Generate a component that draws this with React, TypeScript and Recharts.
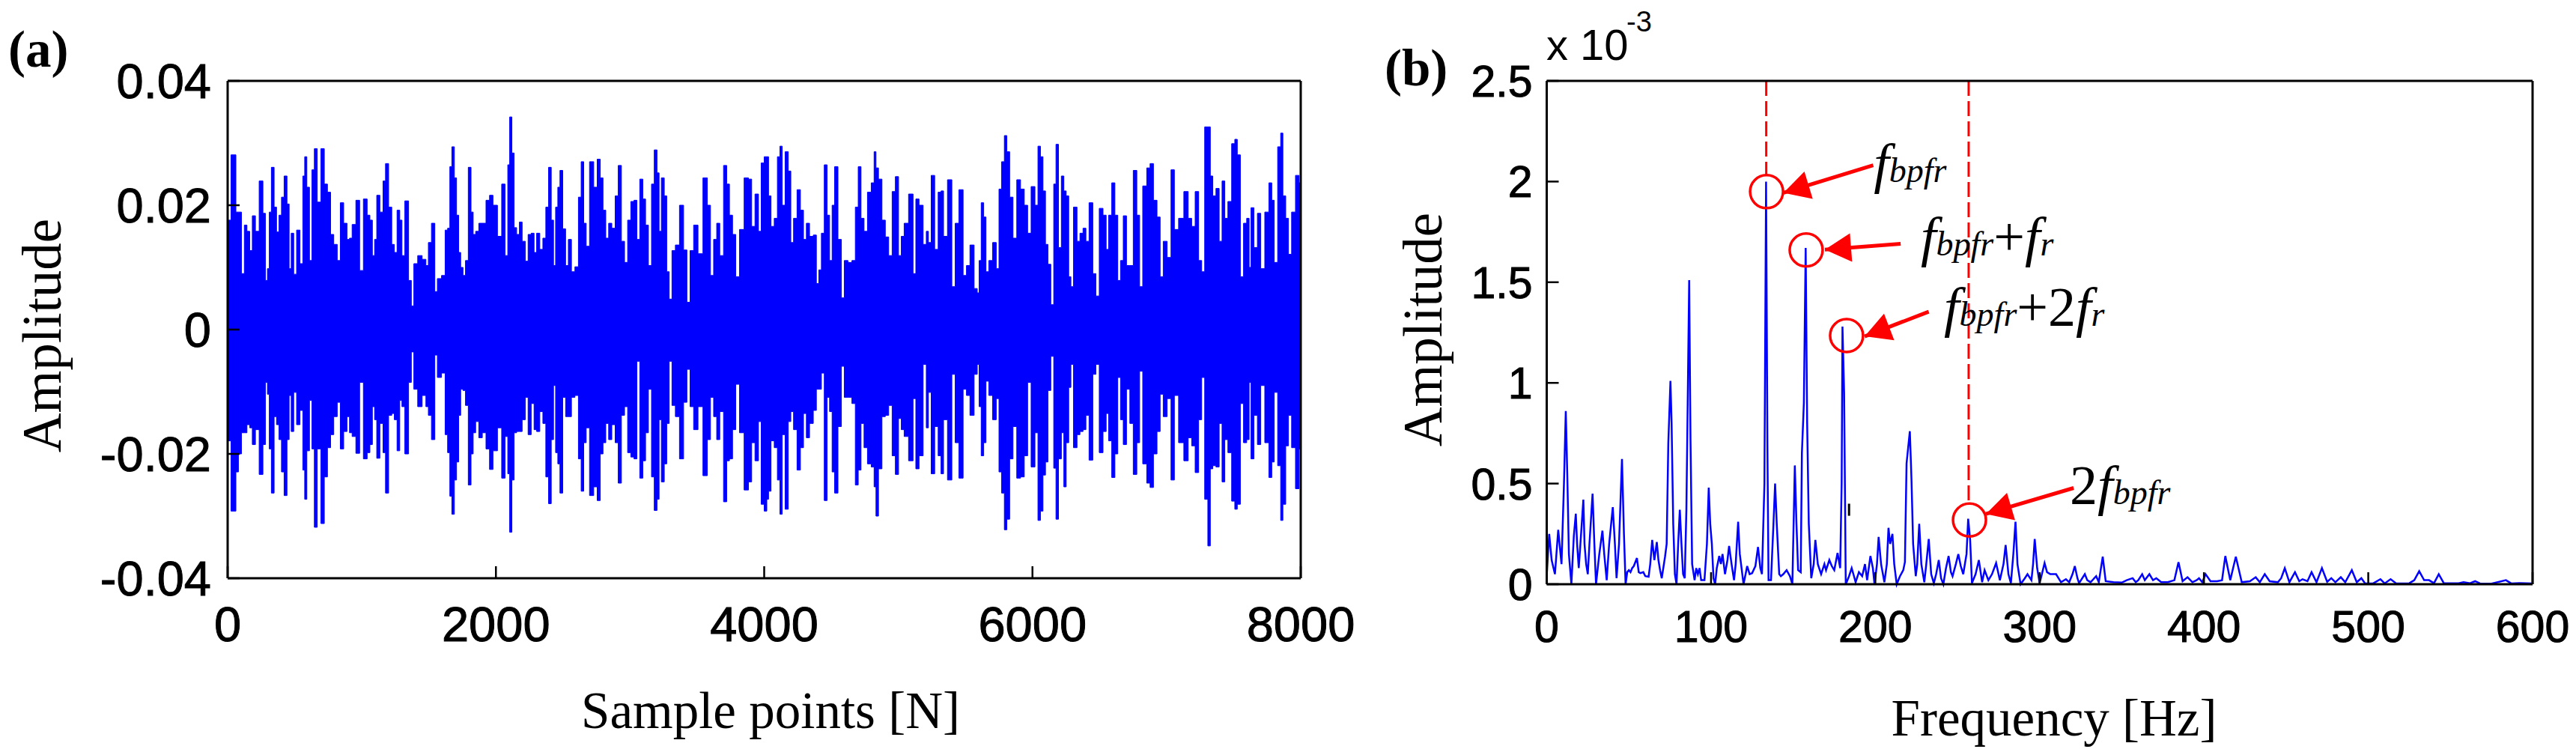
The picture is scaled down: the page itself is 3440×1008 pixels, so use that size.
import React from "react";
import {
  AreaChart,
  Area,
  LineChart,
  Line,
  XAxis,
  YAxis,
  ReferenceLine,
  ReferenceDot,
} from "recharts";

// (a) time trace, read as upper / lower peaks per sample column, in units of 1e-4
const sampleIndex = [
  0, 50, 73, 88, 118, 131, 157, 172, 196, 218, 252, 274, 289, 304, 317, 335, 358, 371, 395, 408,
  434, 451, 466, 482, 503, 525, 553, 568, 581, 600, 620, 637, 656, 680, 711, 730, 758, 777, 805, 829,
  851, 879, 901, 916, 940, 972, 996, 1028, 1052, 1069, 1089, 1102, 1121, 1149, 1168, 1186, 1214, 1233, 1252, 1274,
  1292, 1307, 1335, 1363, 1376, 1400, 1434, 1466, 1490, 1503, 1536, 1553, 1574, 1615, 1628, 1652, 1661, 1682, 1698, 1715,
  1730, 1745, 1764, 1782, 1806, 1823, 1838, 1860, 1885, 1912, 1940, 1965, 1991,
  2032, 2054, 2082, 2095, 2110, 2128, 2143, 2166, 2184, 2207, 2231, 2249, 2277, 2292, 2315, 2339, 2361, 2383, 2402, 2423,
  2436, 2454, 2469, 2486, 2510, 2529, 2551, 2575, 2603, 2627, 2644, 2665, 2681, 2715, 2743, 2767, 2789, 2808, 2830, 2851,
  2877, 2901, 2923, 2948, 2970, 2994, 3018, 3041, 3061, 3084, 3106, 3125, 3149, 3171, 3190, 3212, 3221, 3246, 3264, 3283,
  3301, 3324, 3352, 3385, 3413, 3435, 3460, 3488, 3525, 3562, 3590, 3609, 3637, 3655, 3683, 3711, 3730, 3752, 3776, 3800,
  3832, 3869, 3897, 3916, 3947, 3968, 3987, 4013,
  4026, 4039, 4063, 4087, 4110, 4125, 4143, 4169, 4190, 4207, 4231, 4259, 4281, 4305, 4324, 4352, 4380, 4398, 4417, 4436,
  4460, 4478, 4497, 4516, 4534, 4566, 4585, 4609, 4640, 4668, 4691, 4711, 4733, 4756, 4784, 4812, 4827, 4840, 4864, 4892,
  4914, 4942, 4966, 4990, 5013, 5031, 5056, 5097, 5123, 5138, 5171, 5199, 5218, 5231, 5259, 5283, 5311, 5326, 5348, 5385,
  5413, 5435, 5469, 5497, 5519, 5549, 5581, 5596, 5609, 5627, 5646, 5661, 5689, 5717, 5743, 5758, 5782, 5799, 5819, 5841,
  5869, 5897, 5925, 5953, 5975, 6005,
  6032, 6050, 6069, 6088, 6106, 6125, 6149, 6168, 6183, 6205, 6226, 6242, 6261, 6280, 6293, 6319, 6345, 6363, 6391, 6406,
  6438, 6462, 6484, 6512, 6540, 6559, 6577, 6605, 6624, 6648, 6665, 6689, 6713, 6739, 6764, 6792, 6806, 6838, 6866, 6888,
  6916, 6941, 6963, 6987, 7021, 7045, 7071, 7108, 7149, 7173, 7201, 7225, 7253, 7270, 7298, 7317, 7335, 7354, 7382, 7402,
  7425, 7443, 7471, 7499, 7518, 7536, 7564, 7583, 7611, 7620, 7639, 7663, 7691, 7713, 7751, 7775, 7793, 7812, 7844, 7857,
  7877, 7899, 7918, 7946, 7976, 8000,
];
const upperPeak = [
  176, 281, 189, 189, 90, 168, 158, 127, 183, 158, 239, 187, 79, 98, 189, 261, 197, 157, 184, 213,
  247, 202, 98, 155, 89, 160, 106, 247, 278, 229, 111, 257, 291, 205, 291, 234, 221, 153, 137, 111,
  204, 171, 145, 147, 169, 208, 95, 210, 184, 176, 119, 145, 216, 189, 239, 267, 197, 137, 124, 192,
  176, 119, 207, 79, 38, 106, 119, 113, 103, 140, 171, 61, 82, 87, 160, 163, 262, 294, 244, 184,
  124, 100, 87, 111, 261, 189, 153, 158, 171, 171, 208, 216, 200,
  150, 234, 119, 265, 342, 284, 164, 153, 173, 142, 110, 153, 155, 124, 155, 129, 147, 197, 261, 176,
  103, 197, 229, 256, 162, 103, 145, 93, 101, 213, 270, 171, 134, 270, 229, 274, 244, 192, 147, 171,
  163, 215, 264, 142, 108, 176, 206, 208, 145, 242, 210, 168, 103, 234, 289, 252, 158, 244, 215, 93,
  49, 127, 136, 200, 128, 44, 127, 168, 122, 244, 200, 87, 145, 171, 119, 264, 234, 184, 153, 85,
  161, 244, 242, 166, 218, 158, 268, 278,
  278, 215, 166, 179, 278, 295, 200, 286, 255, 140, 179, 225, 192, 145, 171, 150, 152, 74, 96, 155,
  265, 184, 111, 200, 262, 145, 51, 111, 108, 111, 197, 262, 179, 158, 221, 236, 286, 260, 242, 176,
  149, 119, 222, 246, 119, 150, 171, 218, 90, 210, 200, 137, 158, 140, 248, 129, 221, 223, 150, 241,
  69, 171, 225, 87, 103, 136, 66, 59, 111, 204, 181, 93, 111, 140, 98, 226, 270, 312, 286, 213,
  147, 241, 226, 200, 155, 230,
  200, 295, 278, 223, 137, 105, 40, 234, 298, 132, 247, 223, 215, 85, 69, 197, 142, 155, 163, 142,
  204, 90, 54, 195, 184, 129, 184, 236, 184, 79, 111, 183, 103, 103, 256, 184, 69, 231, 260, 267,
  208, 181, 85, 142, 116, 257, 161, 179, 222, 179, 166, 222, 111, 93, 326, 326, 247, 215, 227, 142,
  239, 179, 206, 299, 306, 281, 85, 171, 179, 100, 196, 132, 187, 98, 189, 236, 208, 108, 294, 316,
  215, 179, 121, 189, 248, 236,
];
const lowerPeak = [
  -179, -292, -229, -200, -166, -166, -153, -158, -185, -161, -233, -185, -85, -104, -192, -263, -140, -153, -177, -229,
  -267, -177, -106, -164, -101, -153, -130, -226, -273, -195, -114, -192, -318, -192, -312, -237, -190, -169, -140, -117,
  -192, -164, -140, -166, -172, -199, -85, -208, -198, -185, -124, -145, -207, -151, -198, -263, -138, -135, -145, -195,
  -114, -124, -200, -85, -36, -96, -124, -106, -124, -138, -177, -41, -77, -70, -169, -198, -268, -297, -242, -213,
  -138, -96, -98, -122, -250, -200, -166, -148, -174, -166, -192, -225, -195,
  -158, -239, -172, -232, -326, -242, -166, -164, -164, -145, -109, -169, -119, -161, -164, -132, -151, -237, -280, -177,
  -90, -198, -216, -263, -109, -140, -140, -109, -106, -208, -260, -182, -158, -267, -253, -275, -200, -182, -151, -177,
  -153, -182, -247, -138, -124, -198, -205, -208, -51, -239, -211, -166, -96, -237, -291, -273, -145, -245, -216, -151,
  -51, -122, -140, -208, -117, -64, -124, -161, -124, -235, -177, -109, -140, -177, -132, -277, -211, -208, -161, -88,
  -166, -258, -245, -182, -211, -148, -281, -292,
  -273, -260, -179, -190, -242, -297, -169, -289, -148, -132, -161, -226, -190, -135, -174, -151, -130, -96, -96, -70,
  -275, -109, -132, -229, -263, -156, -59, -109, -109, -119, -250, -226, -151, -190, -216, -221, -253, -300, -224, -140,
  -138, -122, -203, -233, -143, -161, -172, -211, -111, -224, -203, -56, -158, -101, -232, -156, -203, -232, -145, -242,
  -72, -182, -239, -96, -106, -138, -72, -56, -124, -203, -182, -83, -106, -145, -111, -229, -263, -322, -305, -208,
  -156, -239, -237, -203, -85, -221,
  -166, -307, -292, -234, -213, -98, -43, -223, -305, -208, -166, -253, -182, -93, -56, -190, -169, -164, -161, -138,
  -210, -72, -56, -198, -164, -135, -179, -238, -200, -77, -145, -185, -96, -151, -233, -182, -67, -216, -247, -254,
  -200, -164, -104, -140, -111, -242, -106, -182, -211, -174, -187, -230, -145, -77, -273, -348, -224, -219, -221, -151,
  -245, -177, -198, -276, -289, -281, -119, -182, -177, -85, -208, -138, -185, -90, -182, -238, -213, -101, -219, -307,
  -281, -187, -138, -190, -256, -192,
];
const traceXTicks = [0, 2000, 4000, 6000, 8000];
const traceYTicks = [-0.04, -0.02, 0, 0.02, 0.04];

// (b) spectrum, amplitude in units of 1e-3 as the axis says
const freqHz = [
  0, 1.5, 3, 5, 7, 9, 10.5, 11.6, 12.5, 13.5, 15, 16.5, 17.7, 18.5, 19.5, 20.5, 22.3, 23, 24, 25,
  26, 27.9, 29, 30, 32, 33.9, 35, 36.5, 38, 40.2, 41.5, 42.5, 44, 45.8, 47, 48, 49, 50, 51, 52,
  53, 54.9, 56, 57, 58.8, 60, 62, 63, 64.2, 65.5, 67, 68, 69, 70, 72, 73, 74, 75.3, 76, 77,
  78, 79, 80, 81, 82, 83, 84, 85, 85.8, 86.7, 87.5, 88.5, 90, 91, 92, 93, 94, 96, 97.5, 98.6,
  99.5, 100.5, 101.5, 102.5, 103.5, 105, 106, 107, 108.5, 110, 111, 112.5, 114, 115, 116.5, 117.5, 119.8, 122, 123.5, 125,
  127, 128.6, 130, 131, 132.5, 133.5, 134.3, 135, 136.5, 138, 139, 140, 141.5, 142.5, 144, 146, 148, 149.5, 151, 152,
  153, 154.6, 155.3, 156.5, 157.6, 158.5, 159.5, 161, 162.5, 163.5, 165, 167, 169, 170, 172, 173.5, 175, 177, 178.6, 179.5,
  180, 181, 182, 184, 185.6, 187, 188, 190, 192, 193.7, 195, 197, 198.5, 199.5, 201, 202, 203.5, 205.5, 207, 208,
  209, 210.4, 211.5, 213, 215, 217, 218, 219, 221, 222, 223, 224.6, 225.5, 226.7, 228, 229.8, 231, 232.5, 234, 235.6,
  237, 238.6, 240, 241.4, 243, 244.6, 246, 247, 249, 250.5, 252, 253.5, 255.5, 256.5, 257.7, 258.8, 261, 263, 265, 266.5,
  268.8, 271, 273.5, 275.8, 278, 279.3, 281, 282.5, 284, 285.3, 286.5, 288.4, 291, 292.6, 295, 296, 297, 298.5, 300, 303,
  304.5, 306.5, 308, 310, 313, 316, 318, 320, 321.4, 323, 324, 327.5, 329, 331, 334.4, 336, 338.4, 340.2, 345, 350,
  353, 356.6, 358.5, 360, 362.4, 364, 366.8, 369, 371, 374, 378, 382, 384.5, 387, 390, 393, 395.5, 397, 399, 401,
  404, 408, 411, 413, 416, 419.4, 423, 428, 431.5, 434, 437, 440, 445, 447, 449.2, 452, 455.4, 458, 460, 463,
  465.5, 468.5, 471.8, 475, 477.5, 480, 483.3, 486, 490, 493, 495.8, 498, 503, 507.4, 510, 513.6, 517, 525, 528, 531,
  534, 537, 540, 542.9, 546, 555, 558, 562, 565, 568, 575, 583.8, 587, 592, 600,
];
const spectrum = [
  0.04, 0.25, 0.12, 0.05, 0.27, 0.1, 0.5, 0.86, 0.55, 0.15, 0, 0.24, 0.35, 0.2, 0.08, 0.2, 0.42, 0.2, 0.1, 0.05,
  0.2, 0.45, 0.2, 0, 0.15, 0.266, 0.15, 0.02, 0.2, 0.383, 0.2, 0.03, 0.2, 0.622, 0.25, 0, 0.06, 0.07, 0.06, 0.08,
  0.09, 0.13, 0.06, 0.055, 0.06, 0.04, 0.037, 0.1, 0.22, 0.12, 0.21, 0.12, 0.07, 0.03, 0.136, 0.2, 0.7, 1.01, 0.8, 0.3,
  0.05, 0, 0.2, 0.37, 0.2, 0.05, 0.03, 0.37, 0.9, 1.51, 0.72, 0.1, 0.02, 0.08, 0.05, 0.08, 0.02, 0.02, 0.2, 0.48,
  0.3, 0.2, 0.03, 0, 0.08, 0.14, 0.1, 0.15, 0.05, 0.12, 0.19, 0.1, 0.02, 0.1, 0.31, 0.15, 0, 0.09, 0.05, 0.055,
  0.09, 0.185, 0.08, 0.05, 0.5, 2.0, 0.7, 0.02, 0.02, 0.3, 0.5, 0.3, 0.05, 0.04, 0.05, 0.07, 0.04, 0, 0.59, 0.3,
  0.07, 0.06, 0.65, 0.9, 1.67, 0.8, 0.3, 0.03, 0.1, 0.22, 0.1, 0.05, 0.1, 0.07, 0.12, 0.09, 0.07, 0.155, 0.08, 0.5,
  1.28, 0.95, 0, 0.04, 0.08, 0.04, 0.01, 0.06, 0.04, 0.1, 0.02, 0.14, 0.08, 0, 0.1, 0.235, 0.1, 0.01, 0.1, 0.28,
  0.2, 0.25, 0.1, 0, 0.04, 0.07, 0.11, 0.6, 0.76, 0.52, 0.2, 0.04, 0.1, 0.3, 0.1, 0.01, 0.1, 0.225, 0.05, 0.005,
  0.05, 0.12, 0.03, 0, 0.08, 0.14, 0.06, 0.04, 0.1, 0.15, 0.09, 0.05, 0.15, 0.325, 0.22, 0.005, 0.05, 0.12, 0.01, 0.07,
  0.02, 0.05, 0.105, 0.02, 0.1, 0.195, 0.05, 0.005, 0.15, 0.31, 0.1, 0, 0.03, 0.05, 0.02, 0.1, 0.225, 0.08, 0.005, 0.105,
  0.06, 0.05, 0.05, 0.05, 0.01, 0.025, 0.01, 0.05, 0.09, 0.03, 0.005, 0.05, 0.02, 0.01, 0.04, 0.01, 0.137, 0.015, 0.01, 0.008,
  0.02, 0.03, 0.01, 0.02, 0.05, 0.02, 0.05, 0.02, 0.03, 0.01, 0.01, 0.02, 0.11, 0.015, 0.035, 0.01, 0.02, 0.03, 0.01, 0.05,
  0.015, 0.015, 0.02, 0.14, 0.02, 0.137, 0.01, 0.015, 0.035, 0.01, 0.05, 0.015, 0.01, 0.03, 0.08, 0.01, 0.06, 0.015, 0.025, 0.015,
  0.06, 0.01, 0.08, 0.012, 0.03, 0.01, 0.035, 0.01, 0.07, 0.01, 0.03, 0.005, 0.004, 0.025, 0.004, 0.025, 0.004, 0.005, 0.02, 0.065,
  0.02, 0.02, 0.005, 0.05, 0.005, 0.005, 0.01, 0.005, 0.015, 0.004, 0.003, 0.02, 0.004, 0.006, 0.004,
];
const spectrumXTicks = [0, 100, 200, 300, 400, 500, 600];
const spectrumYTicks = [0, 0.5, 1, 1.5, 2, 2.5];

// annotations on (b)
const dashHz = [133.6, 256.8];
const dashFrom = [2.03, 0.408];
const circleHz = [133.8, 157.9, 182.5, 257.3];
const circleAmp = [1.95, 1.66, 1.235, 0.319];
const tipHz = [144.1, 169.3, 193.5, 267.3];
const tipAmp = [1.944, 1.662, 1.231, 0.349];
const tailHz = [198.7, 215.4, 232.5, 320.7];
const tailAmp = [2.081, 1.691, 1.354, 0.478];
const headAngle = [-17, -4.5, -21, -16.6];
const labelHz = [199, 227.6, 241.8, 318.4];
const labelAmp = [1.996, 1.634, 1.282, 0.399];
const labelParts = [
  [["f", "big"], ["bpfr", "sub"]],
  [["f", "big"], ["bpfr", "sub"], ["+", "plain"], ["f", "big"], ["r", "sub"]],
  [["f", "big"], ["bpfr", "sub"], ["+", "plain"], ["2", "plain"], ["f", "big"], ["r", "sub"]],
  [["2", "plain"], ["f", "big"], ["bpfr", "sub"]],
];

const traceData = sampleIndex.map((sample, i) => ({
  sample,
  range: [lowerPeak[i] * 1e-4, upperPeak[i] * 1e-4],
}));
const spectrumData = freqHz.map((hz, i) => ({ hz, amp: spectrum[i] }));

const W = 3440;
const H = 1008;
const SANS = "'Liberation Sans', Arial, sans-serif";
const SERIF = "'Liberation Serif', 'Times New Roman', serif";
const BLUE = "#0000ff";
const RED = "#ff0000";
const TICK_LEN = 16;
const AXIS_SIZE = 60;

const axisLine = { stroke: "#000", strokeWidth: 3 };
const tickLine = { stroke: "#000", strokeWidth: 2.5 };
const tickText = { fontFamily: SANS, fill: "#000", stroke: "#000", strokeWidth: 1 };

const titleStyle = { fontFamily: SERIF, fontSize: 69, fill: "#000" };
const amplitudeStyle = { fontFamily: SERIF, fontSize: 73, fill: "#000" };
const panelStyle = { fontFamily: SERIF, fontSize: 69, fontWeight: 700, fill: "#000" };

const layer: React.CSSProperties = { position: "absolute", left: 0, top: 0 };

function partStyle(kind: string) {
  if (kind === "big") return { fontSize: 74, fontStyle: "italic" };
  if (kind === "sub") return { fontSize: 46, fontStyle: "italic" };
  return { fontSize: 74 };
}

const App = () => {
  return (
    <div style={{ ...layer, width: W, height: H, background: "#fff" }}>
      <div style={layer}>
        <AreaChart
          width={W}
          height={H}
          data={traceData}
          margin={{ left: 304 - AXIS_SIZE, right: W - 1737 - AXIS_SIZE, top: 108 - AXIS_SIZE, bottom: H - 772 - AXIS_SIZE }}
        >
          <XAxis
            dataKey="sample"
            type="number"
            domain={[0, 8000]}
            ticks={traceXTicks}
            interval={0}
            height={AXIS_SIZE}
            axisLine={axisLine}
            tickLine={tickLine}
            tickSize={-TICK_LEN}
            tickMargin={54}
            tick={{ ...tickText, fontSize: 65 }}
          />
          <XAxis
            xAxisId="top"
            orientation="top"
            type="number"
            domain={[0, 8000]}
            ticks={traceXTicks}
            interval={0}
            height={AXIS_SIZE}
            axisLine={axisLine}
            tickLine={tickLine}
            tickSize={-TICK_LEN}
            tick={false}
          />
          <YAxis
            type="number"
            domain={[-0.04, 0.04]}
            ticks={traceYTicks}
            interval={0}
            width={AXIS_SIZE}
            axisLine={axisLine}
            tickLine={tickLine}
            tickSize={-TICK_LEN}
            tickMargin={38}
            tick={{ ...tickText, fontSize: 65 }}
          />
          <YAxis
            yAxisId="right"
            orientation="right"
            type="number"
            domain={[-0.04, 0.04]}
            ticks={traceYTicks}
            interval={0}
            width={AXIS_SIZE}
            axisLine={axisLine}
            tickLine={tickLine}
            tickSize={-TICK_LEN}
            tick={false}
          />
          <Area
            dataKey="range"
            type="step"
            stroke={BLUE}
            strokeWidth={1}
            fill={BLUE}
            fillOpacity={1}
            dot={false}
            activeDot={false}
            isAnimationActive={false}
          />
          <text x={11} y={89} {...panelStyle}>(a)</text>
          <text x={81} y={448} textAnchor="middle" transform="rotate(-90 81 448)" {...amplitudeStyle}>Amplitude</text>
          <text x={1029} y={972} textAnchor="middle" {...titleStyle}>Sample points [N]</text>
        </AreaChart>
      </div>

      <div style={layer}>
        <LineChart
          width={W}
          height={H}
          data={spectrumData}
          margin={{ left: 2065.5 - AXIS_SIZE, right: W - 3382 - AXIS_SIZE, top: 108 - AXIS_SIZE, bottom: H - 780 - AXIS_SIZE }}
        >
          <XAxis
            dataKey="hz"
            type="number"
            domain={[0, 600]}
            ticks={spectrumXTicks}
            interval={0}
            height={AXIS_SIZE}
            axisLine={axisLine}
            tickLine={tickLine}
            tickSize={-TICK_LEN}
            tickMargin={51}
            tick={{ ...tickText, fontSize: 59 }}
          />
          <XAxis
            xAxisId="top"
            orientation="top"
            type="number"
            domain={[0, 600]}
            ticks={spectrumXTicks}
            interval={0}
            height={AXIS_SIZE}
            axisLine={axisLine}
            tickLine={tickLine}
            tickSize={-TICK_LEN}
            tick={false}
          />
          <YAxis
            type="number"
            domain={[0, 2.5]}
            ticks={spectrumYTicks}
            interval={0}
            width={AXIS_SIZE}
            axisLine={axisLine}
            tickLine={tickLine}
            tickSize={-TICK_LEN}
            tickMargin={35}
            tick={{ ...tickText, fontSize: 59 }}
          />
          <YAxis
            yAxisId="right"
            orientation="right"
            type="number"
            domain={[0, 2.5]}
            ticks={spectrumYTicks}
            interval={0}
            width={AXIS_SIZE}
            axisLine={axisLine}
            tickLine={tickLine}
            tickSize={-TICK_LEN}
            tick={false}
          />
          <Line
            dataKey="amp"
            type="linear"
            stroke={BLUE}
            strokeWidth={2.5}
            dot={false}
            activeDot={false}
            isAnimationActive={false}
          />

          {dashHz.map((hz, i) => (
            <ReferenceLine
              key={`dash-${i}`}
              segment={[{ x: hz, y: 2.5 }, { x: hz, y: dashFrom[i] }]}
              stroke={RED}
              strokeWidth={3}
              strokeDasharray="20 7"
            />
          ))}
          <ReferenceLine
            segment={[{ x: 184, y: 0.4 }, { x: 184, y: 0.34 }]}
            stroke="#000"
            strokeWidth={3}
          />
          {circleHz.map((hz, i) => (
            <ReferenceDot
              key={`circle-${i}`}
              x={hz}
              y={circleAmp[i]}
              r={22}
              fill="none"
              stroke={RED}
              strokeWidth={3.5}
            />
          ))}
          {tipHz.map((hz, i) => (
            <ReferenceLine
              key={`shaft-${i}`}
              segment={[{ x: hz, y: tipAmp[i] }, { x: tailHz[i], y: tailAmp[i] }]}
              stroke={RED}
              strokeWidth={5}
            />
          ))}
          {tipHz.map((hz, i) => (
            <ReferenceDot
              key={`head-${i}`}
              x={hz}
              y={tipAmp[i]}
              r={1}
              shape={(p: any) => (
                <polygon
                  points="0,0 35,-19 35,19"
                  fill={RED}
                  transform={`translate(${p.cx} ${p.cy}) rotate(${headAngle[i]})`}
                />
              )}
            />
          ))}
          {labelHz.map((hz, i) => (
            <ReferenceDot
              key={`label-${i}`}
              x={hz}
              y={labelAmp[i]}
              r={1}
              shape={(p: any) => (
                <text x={p.cx} y={p.cy} fontFamily={SERIF} fill="#000">
                  {labelParts[i].map(([txt, kind], j) => (
                    <tspan key={j} {...partStyle(kind)}>{txt}</tspan>
                  ))}
                </text>
              )}
            />
          ))}

          <text x={1849} y={114} {...panelStyle}>(b)</text>
          <text x={1925} y={440} textAnchor="middle" transform="rotate(-90 1925 440)" {...amplitudeStyle}>Amplitude</text>
          <text x={2743} y={982} textAnchor="middle" {...titleStyle}>Frequency [Hz]</text>
          <text x={2065} y={80} fontFamily={SANS} fontSize={58} fill="#000">x 10</text>
          <text x={2172} y={42} fontFamily={SANS} fontSize={38} fill="#000">-3</text>
        </LineChart>
      </div>
    </div>
  );
};

export default App;
